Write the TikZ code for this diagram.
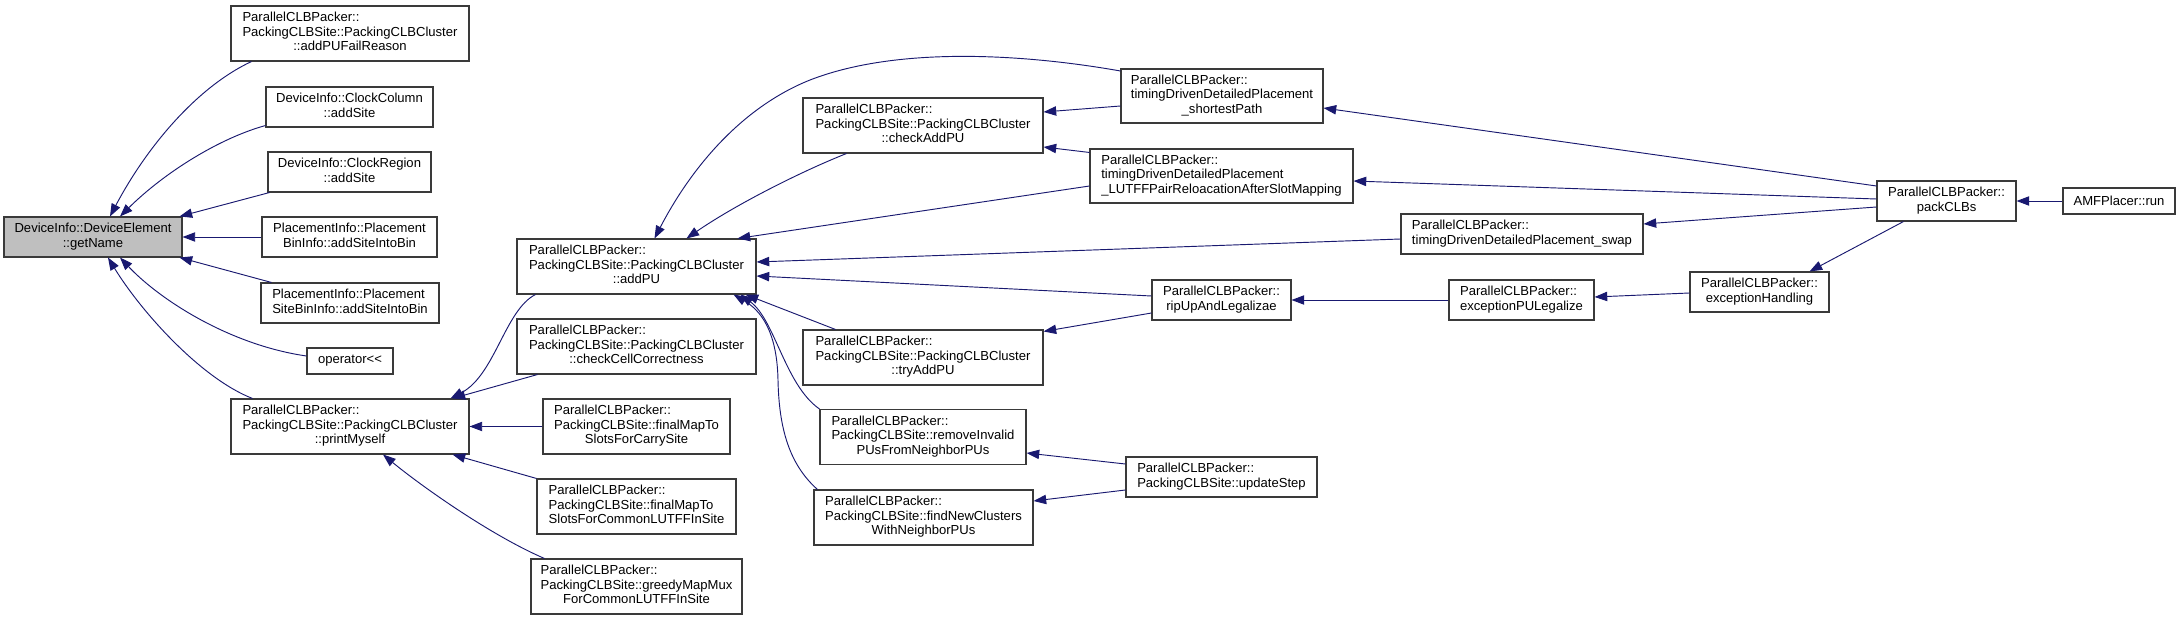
\documentclass[tikz,border=0pt]{standalone}
\usepackage{fontspec}
\setmainfont{Liberation Sans}
\usetikzlibrary{arrows.meta,calc}
\definecolor{edgeblue}{HTML}{191970}
\definecolor{boxline}{HTML}{3A3A3A}
\definecolor{curfill}{HTML}{BFBFBF}
\newcommand{\nlbl}[2]{\begin{tabular}{@{}l@{}}#1\\\multicolumn{1}{@{}c@{}}{#2}\end{tabular}}
\tikzset{
  fn/.style={draw=boxline, line width=0.8pt, fill=white, inner sep=0pt, align=center,
    font=\fontsize{9.8pt}{10.8pt}\selectfont},
  cur/.style={fn, fill=curfill},
  sz/.style 2 args={minimum width=#1*0.75pt, minimum height=#2*0.75pt},
  edge/.style={draw=edgeblue, line width=0.7pt, -{Triangle[length=9.5pt,width=7pt]}}
}
\begin{document}
\begin{tikzpicture}[x=0.75pt,y=-0.75pt]
\path[use as bounding box, fill=white] (0,0) rectangle (2180,620);
% column 1
\node[cur, sz={178}{40}] (gn) at (93,237) {\nlbl{DeviceInfo::DeviceElement}{::getName}};
% column 2
\node[fn, sz={238}{55}] (apfr) at (350,33.5) {\nlbl{ParallelCLBPacker::\\PackingCLBSite::PackingCLBCluster}{::addPUFailReason}};
\node[fn, sz={167}{40}] (ccol) at (349.5,107) {\nlbl{DeviceInfo::ClockColumn}{::addSite}};
\node[fn, sz={163}{40}] (creg) at (349.5,172) {\nlbl{DeviceInfo::ClockRegion}{::addSite}};
\node[fn, sz={175}{40}] (pbin) at (349.5,237) {\nlbl{PlacementInfo::Placement}{BinInfo::addSiteIntoBin}};
\node[fn, sz={178}{40}] (psbin) at (350,303) {\nlbl{PlacementInfo::Placement}{SiteBinInfo::addSiteIntoBin}};
\node[fn, sz={86}{26}] (op) at (350,361) {operator\textless\kern0pt\textless};
\node[fn, sz={238}{55}] (pm) at (350,426.5) {\nlbl{ParallelCLBPacker::\\PackingCLBSite::PackingCLBCluster}{::printMyself}};
% column 3
\node[fn, sz={239}{55}] (addpu) at (636.5,266.5) {\nlbl{ParallelCLBPacker::\\PackingCLBSite::PackingCLBCluster}{::addPU}};
\node[fn, sz={239}{55}] (ccc) at (636.5,346.5) {\nlbl{ParallelCLBPacker::\\PackingCLBSite::PackingCLBCluster}{::checkCellCorrectness}};
\node[fn, sz={187}{55}] (fmcarry) at (636.5,426.5) {\nlbl{ParallelCLBPacker::\\PackingCLBSite::finalMapTo}{SlotsForCarrySite}};
\node[fn, sz={199}{55}] (fmcommon) at (636.5,506.5) {\nlbl{ParallelCLBPacker::\\PackingCLBSite::finalMapTo}{SlotsForCommonLUTFFInSite}};
\node[fn, sz={211}{55}] (greedy) at (636.5,586.5) {\nlbl{ParallelCLBPacker::\\PackingCLBSite::greedyMapMux}{ForCommonLUTFFInSite}};
% column 4
\node[fn, sz={240}{55}] (cap) at (923,125.5) {\nlbl{ParallelCLBPacker::\\PackingCLBSite::PackingCLBCluster}{::checkAddPU}};
\node[fn, sz={240}{55}] (tryadd) at (923,357.5) {\nlbl{ParallelCLBPacker::\\PackingCLBSite::PackingCLBCluster}{::tryAddPU}};
\node[fn, sz={206}{55}] (rem) at (923,437) {\nlbl{ParallelCLBPacker::\\PackingCLBSite::removeInvalid}{PUsFromNeighborPUs}};
\node[fn, sz={219}{55}] (fnc) at (923.5,517.5) {\nlbl{ParallelCLBPacker::\\PackingCLBSite::findNewClusters}{WithNeighborPUs}};
% column 5
\node[fn, sz={202}{54}] (sp) at (1222,96) {\nlbl{ParallelCLBPacker::\\timingDrivenDetailedPlacement}{\_shortestPath}};
\node[fn, sz={263}{54}] (lutff) at (1221.5,176) {\nlbl{ParallelCLBPacker::\\timingDrivenDetailedPlacement}{\_LUTFFPairReloacationAfterSlotMapping}};
\node[fn, sz={139}{40}] (rip) at (1221.5,300) {\nlbl{ParallelCLBPacker::}{ripUpAndLegalizae}};
\node[fn, sz={191}{40}] (upd) at (1221.5,477) {\nlbl{ParallelCLBPacker::}{PackingCLBSite::updateStep}};
% column 6
\node[fn, sz={242}{40}] (swap) at (1522,234) {\nlbl{ParallelCLBPacker::}{timingDrivenDetailedPlacement\_swap}};
\node[fn, sz={145}{40}] (epl) at (1521.5,300) {\nlbl{ParallelCLBPacker::}{exceptionPULegalize}};
% columns 7-9
\node[fn, sz={139}{40}] (eh) at (1759.5,292) {\nlbl{ParallelCLBPacker::}{exceptionHandling}};
\node[fn, sz={139}{40}] (pack) at (1946.5,201) {\nlbl{ParallelCLBPacker::}{packCLBs}};
\node[fn, sz={112}{26}] (amf) at (2119,201) {AMFPlacer::run};

% edges into getName
\draw[edge] ($(apfr.south west)+(21,0)$) .. controls (195,88) and (145,150) .. ($(gn.north)+(17,0)$);
\draw[edge] ($(ccol.south west)+(0,-2)$) .. controls (220,138) and (165,172) .. ($(gn.north)+(27,0)$);
\draw[edge] ($(creg.south west)+(2,0)$) -- ($(gn.north east)+(-3,0)$);
\draw[edge] (pbin.west) -- (gn.east);
\draw[edge] ($(psbin.north west)+(11,0)$) -- ($(gn.south east)+(-3,0)$);
\draw[edge] ($(op.west)+(0,-5)$) .. controls (230,345) and (160,300) .. ($(gn.south)+(27,0)$);
\draw[edge] ($(pm.north west)+(22,0)$) .. controls (200,378) and (140,310) .. ($(gn.south)+(15,0)$);
% edges into printMyself
\draw[edge] ($(addpu.south west)+(19,0)$) .. controls (505,310) and (495,375) .. ($(pm.north east)+(-19,0)$);
\draw[edge] ($(ccc.south west)+(21,0)$) -- ($(pm.north east)+(-17,0)$);
\draw[edge] (fmcarry.west) -- (pm.east);
\draw[edge] (fmcommon.north west) -- ($(pm.south east)+(-17,0)$);
\draw[edge] ($(greedy.north west)+(14,0)$) .. controls (490,535) and (420,485) .. ($(pm.south)+(33,0)$);
% edges into addPU
\draw[edge] ($(cap.south west)+(44,0)$) .. controls (800,172) and (735,205) .. ($(addpu.north west)+(170,0)$);
\draw[edge] ($(sp.west)+(0,-25)$) .. controls (1030,55) and (900,45) .. (810,80) .. controls (740,108) and (690,170) .. ($(addpu.north)+(18,0)$);
\draw[edge] ($(lutff.west)+(0,10)$) -- ($(addpu.north east)+(-19,0)$);
\draw[edge] ($(swap.west)+(0,5)$) -- ($(addpu.east)+(0,-4.5)$);
\draw[edge] ($(rip.west)+(0,-4)$) -- ($(addpu.east)+(0,9.5)$);
\draw[edge] ($(tryadd.north west)+(33,0)$) -- ($(addpu.south east)+(-11,0)$);
\draw[edge] (rem.north west) .. controls (785,385) and (775,320) .. ($(addpu.south east)+(-16,0)$);
\draw[edge] ($(fnc.north west)+(4,0)$) .. controls (790,465) and (779,430) .. (778,380) .. controls (777,330) and (760,310) .. ($(addpu.south east)+(-23,0)$);
% edges into checkAddPU, tryAddPU, removeInvalid, findNewClusters
\draw[edge] ($(sp.west)+(0,10)$) -- ($(cap.east)+(0,-13.5)$);
\draw[edge] ($(lutff.north west)+(0,4)$) -- ($(cap.east)+(0,21.5)$);
\draw[edge] ($(rip.west)+(0,13)$) -- ($(tryadd.north east)+(0,2)$);
\draw[edge] ($(upd.west)+(0,-13)$) -- ($(rem.east)+(0,16)$);
\draw[edge] ($(upd.west)+(0,13)$) -- ($(fnc.east)+(0,-16.5)$);
% right part
\draw[edge] ($(pack.west)+(0,-15)$) -- ($(sp.east)+(0,12)$);
\draw[edge] ($(pack.west)+(0,-2)$) -- ($(lutff.east)+(0,5)$);
\draw[edge] ($(pack.west)+(0,6)$) -- ($(swap.east)+(0,-10)$);
\draw[edge] (epl.west) -- (rip.east);
\draw[edge] ($(eh.west)+(0,1)$) -- ($(epl.east)+(0,-3)$);
\draw[edge] ($(pack.south west)+(27,0)$) -- ($(eh.north east)+(-20,0)$);
\draw[edge] (amf.west) -- (pack.east);
\end{tikzpicture}
\end{document}
